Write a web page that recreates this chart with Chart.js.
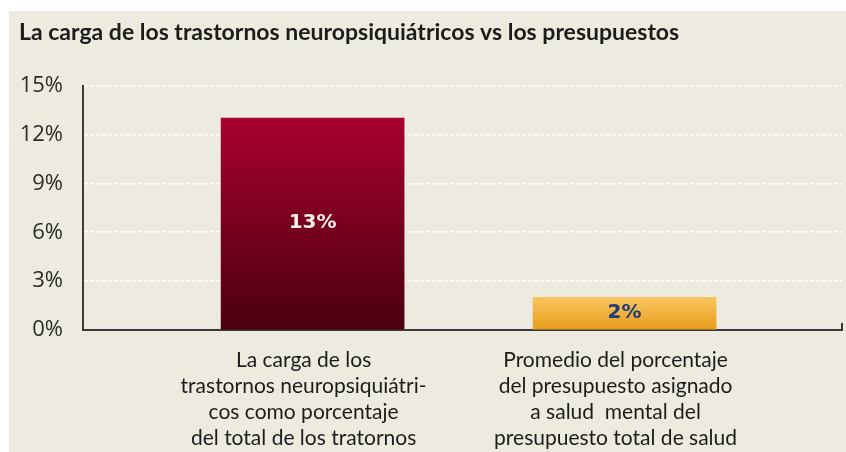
<!DOCTYPE html>
<html>
<head>
<meta charset="utf-8">
<script src="https://cdn.jsdelivr.net/npm/chart.js@4.4.1/dist/chart.umd.min.js"></script>
<style>
  html, body { margin: 0; padding: 0; background: #ffffff; }
  #panel { position: absolute; left: 9px; top: 11px; width: 837px; height: 441px; background: #edebdf; overflow: hidden; }
</style>
</head>
<body>
<div id="panel"><canvas id="chart" width="837" height="441"></canvas></div>
<script>
const title_text = "La carga de los trastornos neuropsiquiátricos vs los presupuestos";
const categories = [
  ["La carga de los", "trastornos neuropsiquiátri-", "cos como porcentaje", "del total de los tratornos"],
  ["Promedio del porcentaje", "del presupuesto asignado", "a salud  mental del", "presupuesto total de salud"]
];
const positions = [1, 2];
const values = [13, 2];
const y_ticks = [0, 3, 6, 9, 12, 15];
const bar_gradients = [["#a8002f", "#4a0010"], ["#f8c55e", "#e99d1c"]];
const label_colours = ["#f4efe8", "#1d3c78"];

// value labels in the middle of each bar
const barValuePlugin = {
  id: "barValue",
  afterDatasetsDraw(chart) {
    const ctx = chart.ctx;
    const meta = chart.getDatasetMeta(0);
    ctx.save();
    ctx.font = "bold 20px 'DejaVu Sans', sans-serif";
    ctx.textAlign = "center";
    ctx.textBaseline = "middle";
    meta.data.forEach((bar, i) => {
      ctx.fillStyle = label_colours[i];
      ctx.fillText(values[i] + "%", bar.x, (bar.y + bar.base) / 2 - 1);
    });
    ctx.restore();
  }
};

// little upward tick at the right end of the x axis
const endTickPlugin = {
  id: "endTick",
  afterDraw(chart) {
    const { ctx, chartArea } = chart;
    ctx.save();
    ctx.strokeStyle = "#3a3a3a";
    ctx.lineWidth = 2;
    ctx.beginPath();
    ctx.moveTo(chartArea.right, chartArea.bottom + 1);
    ctx.lineTo(chartArea.right, chartArea.bottom - 7);
    ctx.stroke();
    ctx.restore();
  }
};

function barColour(context) {
  const chart = context.chart;
  const i = context.dataIndex;
  if (!chart.chartArea) return bar_gradients[i][0];
  const y = chart.scales.y;
  const g = chart.ctx.createLinearGradient(0, y.getPixelForValue(values[i]), 0, y.getPixelForValue(0));
  g.addColorStop(0, bar_gradients[i][0]);
  g.addColorStop(1, bar_gradients[i][1]);
  return g;
}

const ctx = document.getElementById("chart").getContext("2d");
new Chart(ctx, {
  type: "bar",
  data: {
    datasets: [{
      data: positions.map((x, i) => ({ x: x, y: values[i] })),
      backgroundColor: barColour,
      borderWidth: 0,
      barThickness: 183
    }]
  },
  options: {
    responsive: false,
    animation: false,
    layout: { padding: { left: 10, right: 4, top: 0, bottom: 0 } },
    plugins: {
      legend: { display: false },
      tooltip: { enabled: false },
      title: {
        display: true,
        text: title_text,
        align: "start",
        color: "#1c1c1c",
        font: { family: "Lato, sans-serif", size: 23, weight: "bold" },
        padding: { top: 8, bottom: 39 }
      }
    },
    scales: {
      x: {
        type: "linear",
        offset: false,
        bounds: "data",
        min: 0.264,
        max: 2.697,
        afterBuildTicks: (scale) => { scale.ticks = positions.map(v => ({ value: v })); },
        afterFit: (scale) => { scale.height = 122; },
        grid: { display: false, offset: false },
        border: { display: true, color: "#3a3a3a", width: 2 },
        ticks: {
          autoSkip: false,
          maxRotation: 0,
          padding: 9,
          labelOffset: -9,
          color: "#1c1c1c",
          font: { family: "Lato, sans-serif", size: 21, lineHeight: "26px" },
          callback: (v) => categories[positions.indexOf(v)] || ""
        }
      },
      y: {
        min: 0,
        max: 15,
        afterBuildTicks: (scale) => { scale.ticks = y_ticks.map(v => ({ value: v })); },
        afterFit: (scale) => { scale.width = 64; },
        grid: {
          color: (c) => c.tick && c.tick.value === 0 ? "rgba(0,0,0,0)" : "#ffffff",
          lineWidth: 1.5,
          drawTicks: false
        },
        border: { display: true, color: "#3a3a3a", width: 2, dash: [4, 2] },
        ticks: {
          padding: 20,
          color: "#2a2a2a",
          font: { family: "'Open Sans', sans-serif", size: 22 },
          callback: (v) => v + "%"
        }
      }
    }
  },
  plugins: [barValuePlugin, endTickPlugin]
});
</script>
</body>
</html>
